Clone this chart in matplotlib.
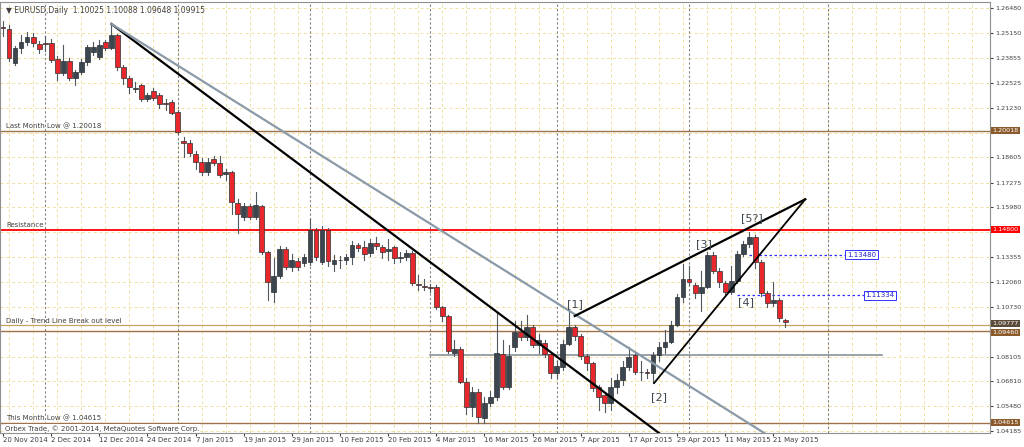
import numpy as np
import matplotlib.pyplot as plt
from matplotlib.patches import Rectangle

# daily EURUSD candles, 20 Nov 2014 .. 22 May 2015
opens = [1.2550,1.2537,1.2358,1.2437,1.2469,1.2495,1.2460,1.2463,1.2463,1.2380,
         1.2305,1.2370,1.2280,1.2310,1.2364,1.2417,1.2390,1.2470,1.2437,1.2506,
         1.2337,1.2280,1.2222,1.2240,1.2170,1.2210,1.2190,1.2145,1.2150,1.2100,
         1.1946,1.1935,1.1880,1.1836,1.1784,1.1850,1.1830,1.1773,1.1784,1.1620,
         1.1546,1.1604,1.1546,1.1604,1.1362,1.1151,1.1236,1.1378,1.1283,1.1315,
         1.1304,1.1309,1.1478,1.1309,1.1478,1.1299,1.1318,1.1320,1.1336,1.1400,
         1.1390,1.1357,1.1410,1.1389,1.1367,1.1389,1.1330,1.1336,1.1357,1.1192,
         1.1182,1.1180,1.1180,1.1070,1.1025,1.0830,1.0850,1.0677,1.0545,1.0624,
         1.0487,1.0566,1.0598,1.0825,1.0650,1.0862,1.0941,1.0914,1.0967,1.0872,
         1.0882,1.0825,1.0724,1.0756,1.0877,1.0967,1.0920,1.0814,1.0777,1.0650,
         1.0608,1.0566,1.0650,1.0687,1.0756,1.0820,1.0732,1.0730,1.0724,1.0820,
         1.0862,1.0888,1.0977,1.1125,1.1220,1.1188,1.1146,1.1178,1.1346,1.1262,
         1.1199,1.1151,1.1210,1.1352,1.1404,1.1441,1.1309,1.1146,1.1093,1.1109,
         1.10025]
closes = [1.2540,1.2385,1.2437,1.2469,1.2495,1.2463,1.2430,1.2460,1.2374,1.2305,
          1.2370,1.2280,1.2311,1.2364,1.2443,1.2443,1.2453,1.2437,1.2506,1.2337,
          1.2280,1.2230,1.2228,1.2170,1.2190,1.2174,1.2140,1.2140,1.2095,1.1995,
          1.1935,1.1884,1.1836,1.1784,1.1836,1.1831,1.1768,1.1784,1.1626,1.1562,
          1.1604,1.1546,1.1610,1.1362,1.1204,1.1236,1.1378,1.1283,1.1320,1.1283,
          1.1336,1.1478,1.1336,1.1478,1.1315,1.1320,1.1322,1.1336,1.1400,1.1383,
          1.1352,1.1410,1.1394,1.1362,1.1378,1.1330,1.1336,1.1357,1.1199,1.1188,
          1.1180,1.1170,1.1070,1.1025,1.0840,1.0850,1.0677,1.0545,1.0624,1.0492,
          1.0566,1.0598,1.0830,1.0650,1.0814,1.0941,1.0914,1.0967,1.0872,1.0898,
          1.0825,1.0724,1.0760,1.0877,1.0967,1.0920,1.0814,1.0777,1.0645,1.0598,
          1.0566,1.0650,1.0687,1.0756,1.0809,1.0730,1.0728,1.0724,1.0820,1.0862,
          1.0888,1.0977,1.1125,1.1220,1.1204,1.1146,1.1178,1.1346,1.1262,1.1204,
          1.1151,1.1210,1.1352,1.1404,1.1441,1.1309,1.1146,1.1093,1.1109,1.1015,
          1.09915]
highs = [1.2580,1.2560,1.2450,1.2505,1.2520,1.2515,1.2475,1.2500,1.2485,1.2395,
         1.2455,1.2385,1.2320,1.2380,1.2455,1.2470,1.2480,1.2480,1.2570,1.2510,
         1.2345,1.2290,1.2260,1.2250,1.2200,1.2225,1.2200,1.2170,1.2165,1.2110,
         1.1970,1.1950,1.1895,1.1860,1.1860,1.1870,1.1870,1.1800,1.1790,1.1640,
         1.1620,1.1615,1.1680,1.1610,1.1370,1.1330,1.1395,1.1390,1.1350,1.1330,
         1.1350,1.1535,1.1490,1.1500,1.1490,1.1345,1.1340,1.1350,1.1420,1.1410,
         1.1420,1.1430,1.1440,1.1400,1.1430,1.1395,1.1360,1.1375,1.1365,1.1240,
         1.1220,1.1195,1.1190,1.1080,1.1030,1.0900,1.0860,1.0700,1.0650,1.0640,
         1.0600,1.0630,1.1040,1.0900,1.0870,1.1000,1.1000,1.1030,1.0975,1.0930,
         1.0900,1.0835,1.0790,1.0900,1.1046,1.0980,1.0930,1.0825,1.0785,1.0660,
         1.0620,1.0700,1.0720,1.0790,1.0860,1.0830,1.0790,1.0745,1.0835,1.0890,
         1.0950,1.1000,1.1140,1.1300,1.1290,1.1200,1.1260,1.1360,1.1360,1.1280,
         1.1210,1.1290,1.1365,1.1420,1.1467,1.1450,1.1320,1.1155,1.1204,1.1120,
         1.10088]
lows = [1.2500,1.2370,1.2350,1.2410,1.2455,1.2450,1.2410,1.2420,1.2365,1.2270,
        1.2295,1.2270,1.2240,1.2300,1.2350,1.2400,1.2380,1.2425,1.2430,1.2320,
        1.2250,1.2200,1.2205,1.2160,1.2160,1.2165,1.2120,1.2110,1.2090,1.1985,
        1.1865,1.1870,1.1800,1.1770,1.1770,1.1820,1.1760,1.1740,1.1560,1.1460,
        1.1530,1.1535,1.1535,1.1350,1.1110,1.1100,1.1225,1.1270,1.1260,1.1265,
        1.1290,1.1295,1.1320,1.1300,1.1290,1.1260,1.1280,1.1300,1.1300,1.1370,
        1.1320,1.1340,1.1380,1.1330,1.1320,1.1305,1.1310,1.1320,1.1190,1.1160,
        1.1160,1.1150,1.1060,1.1000,1.0830,1.0815,1.0670,1.0510,1.0500,1.0461,
        1.0462,1.0550,1.0580,1.0640,1.0640,1.0840,1.0900,1.0900,1.0860,1.0830,
        1.0810,1.0700,1.0700,1.0740,1.0870,1.0900,1.0800,1.0740,1.0630,1.0530,
        1.0519,1.0530,1.0620,1.0660,1.0740,1.0720,1.0690,1.0700,1.0672,1.0790,
        1.0830,1.0880,1.0970,1.1100,1.1190,1.1120,1.1050,1.1170,1.1250,1.1180,
        1.1140,1.1140,1.1200,1.1340,1.1390,1.1280,1.1130,1.1070,1.1080,1.1000,
        1.09648]

date_labels = ['20 Nov 2014', '2 Dec 2014', '12 Dec 2014', '24 Dec 2014', '7 Jan 2015',
               '19 Jan 2015', '29 Jan 2015', '10 Feb 2015', '20 Feb 2015', '4 Mar 2015',
               '16 Mar 2015', '26 Mar 2015', '7 Apr 2015', '17 Apr 2015', '29 Apr 2015',
               '11 May 2015', '21 May 2015']
price_ticks = [1.26480, 1.25150, 1.23855, 1.22525, 1.21230, 1.19900, 1.18605, 1.17275,
               1.15980, 1.14650, 1.13355, 1.12060, 1.10730, 1.09435, 1.08105, 1.06810,
               1.05480, 1.04185]
month_bars = [7, 29, 51, 71, 92, 114, 137]

# levels
last_month_low = 1.20018
resistance = 1.14800
break_hi, break_lo = 1.09777, 1.09460
this_month_low = 1.04615
support_mid = 1.0819
target1, target2 = 1.13480, 1.11334

# trend lines (bar, price)
tl_black = [(18, 1.2564), (109, 1.0408)]
tl_gray = [(18, 1.2564), (126.5, 1.0408)]
wedge_top = [(95, 1.1025), (133.3, 1.1640)]
wedge_bot = [(108.2, 1.0672), (133.3, 1.1640)]
waves = [('[1]', 95, 1.1085), ('[2]', 109, 1.0595), ('[3]', 116.5, 1.1405),
         ('[4]', 123.5, 1.1100), ('[5?]', 124.5, 1.1540)]

fig = plt.figure(figsize=(10.24, 4.47), dpi=100)
ax = fig.add_axes([0.0, 14/447, 990/1024, 431/447])
ax.set_xlim(-0.5, 164.0)
ax.set_ylim(1.04083, 1.26796)

# grid
for p in price_ticks:
    ax.axhline(p, color='#f0e0a0', lw=0.7, ls=(0, (3, 3)), zorder=0)
for b in range(1, 165, 4):
    ax.axvline(b, color='#f0e0a0', lw=0.7, ls=(0, (3, 3)), zorder=0)
for b in month_bars:
    ax.axvline(b, color='#808080', lw=0.8, ls=(0, (2, 2)), zorder=0.5)

# levels
ax.axhline(last_month_low, color='#a0724a', lw=1, zorder=1)
ax.axhline(resistance, color='#ff0000', lw=1.3, zorder=1)
ax.axhline(break_hi, color='#c8a060', lw=0.9, zorder=1)
ax.axhline(break_lo, color='#a0724a', lw=1, zorder=1)
ax.axhline(this_month_low, color='#a0724a', lw=1, zorder=1)
ax.plot([71, 146], [support_mid, support_mid], color='#8a9296', lw=1.2, zorder=1)
ax.plot([124, 140], [target1, target1], color='#3030ff', lw=0.9, ls=(0, (2, 2)), zorder=1)
ax.plot([122, 143], [target2, target2], color='#3030ff', lw=0.9, ls=(0, (2, 2)), zorder=1)

# candles
for i in range(len(opens)):
    o, c, h, l = opens[i], closes[i], highs[i], lows[i]
    col = '#3b4650' if c >= o else '#e8262b'
    ax.plot([i, i], [l, h], color='#505a60', lw=0.8, zorder=2)
    lo_, hi_ = min(o, c), max(o, c)
    ax.add_patch(Rectangle((i - 0.4, lo_), 0.8, max(hi_ - lo_, 0.0002),
                           facecolor=col, edgecolor='#303030', lw=0.5, zorder=3))

# trend lines
for pts, col, lw in [(tl_black, 'black', 1.6), (tl_gray, '#8a9aa8', 1.6),
                     (wedge_top, 'black', 1.6), (wedge_bot, 'black', 1.3)]:
    ax.plot([pts[0][0], pts[1][0]], [pts[0][1], pts[1][1]], color=col, lw=lw, zorder=4)

for txt, b, p in waves:
    ax.text(b, p, txt, fontsize=8, color='#404850', ha='center', va='center', zorder=5)

fs = 5.0
ax.text(0.5, last_month_low + 0.0012, 'Last Month Low @ 1.20018', fontsize=fs, color='#404040')
ax.text(0.5, resistance + 0.0012, 'Resistance', fontsize=fs, color='#404040')
ax.text(0.5, break_hi + 0.0008, 'Daily - Trend Line Break out level', fontsize=fs, color='#404040')
ax.text(0.5, this_month_low + 0.0012, 'This Month Low @ 1.04615', fontsize=fs, color='#404040')
ax.text(0.3, 1.0420, 'Orbex Trade, © 2001-2014, MetaQuotes Software Corp.', fontsize=fs,
        color='#404040', bbox=dict(facecolor='white', edgecolor='none', pad=0.5))
ax.text(0.5, 1.2635, '▼ EURUSD,Daily  1.10025 1.10088 1.09648 1.09915', fontsize=5.5,
        color='#404040', va='center')

for val, b in [(target1, 140.2), (target2, 143.3)]:
    ax.text(b, val, f'{val:.5f}', fontsize=fs, color='#2020d0', va='center',
            bbox=dict(facecolor='white', edgecolor='#3030ff', lw=0.7, pad=1.2))

# axis
rfs = 4.6
ax.yaxis.tick_right()
ax.set_yticks(price_ticks)
ax.set_yticklabels([f'{p:.5f}' if p not in (1.19900, 1.14650, 1.09435) else '' for p in price_ticks])
ax.tick_params(axis='y', labelsize=rfs, length=2, colors='#404040', pad=1.5)
ax.set_xticks(range(0, 8 * len(date_labels), 8))
ax.set_xticklabels(date_labels, ha='left')
ax.tick_params(axis='x', labelsize=fs, length=2, colors='#404040', pad=1)
for s in ax.spines.values():
    s.set_color('#909090')

for val, col, dy in [(last_month_low, '#8b5a2b', 0), (resistance, '#ff0000', 0),
                     (break_hi, '#5a4a3a', 0.0008), (break_lo, '#8b5a2b', -0.0008),
                     (this_month_low, '#8b5a2b', 0)]:
    ax.text(164.4, val + dy, f'{val:.5f}', fontsize=rfs, color='white', va='center',
            transform=ax.transData, clip_on=False,
            bbox=dict(facecolor=col, edgecolor='none', pad=0.8))

fig.savefig('out.png', dpi=100, facecolor='white')
